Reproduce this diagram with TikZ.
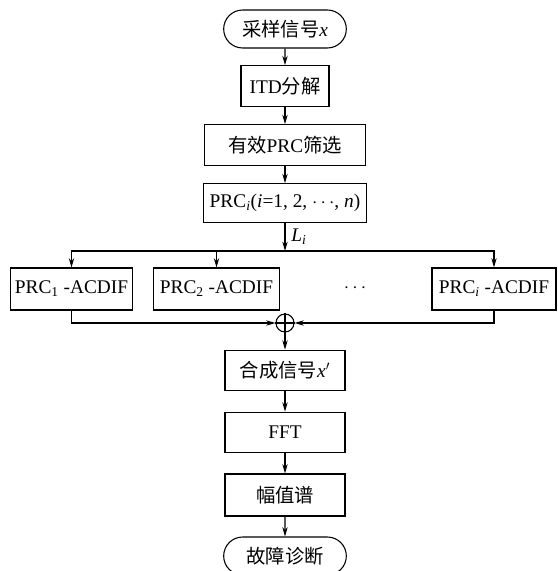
\documentclass[tikz,border=0pt]{standalone}
\usepackage{fontspec}
\setmainfont{Liberation Serif}
\newfontfamily\cjk{Noto Sans CJK SC}
\usetikzlibrary{shapes.misc,arrows.meta}
\newcommand{\zh}[1]{{\cjk #1}}

\begin{document}
\begin{tikzpicture}[x=0.75pt,y=-0.75pt,
    font=\fontsize{14.5}{17}\selectfont,
    line width=0.8pt,
    >={Stealth[length=7pt,width=4pt]},
    box/.style={draw,rectangle,inner sep=0pt,minimum height=30.5pt},
    term/.style={draw,rounded rectangle,inner sep=0pt,minimum width=92pt,minimum height=28.5pt}]
        % Frame of the picture
        \useasboundingbox (0,0) rectangle (557,571);

        % Main column
        \node[term] (start) at (285,29) {\zh{采样信号}\textit{x}};
        \node[box,minimum width=66pt] (itd) at (285,86) {ITD\zh{分解}};
        \node[box,minimum width=121pt] (sel) at (285,145) {\zh{有效}PRC\zh{筛选}};
        \node[box,minimum width=122pt,minimum height=29pt] (prc) at (285,203)
            {PRC\textsubscript{\textit{i}}(\textit{i}=1, 2, $\cdots$, \textit{n})};
        \coordinate (split) at (285,251);

        % PRC-ACDIF row
        \node[box,minimum width=92pt,minimum height=31.5pt] (acd1) at (71.5,289) {PRC\textsubscript{1} -ACDIF};
        \node[box,minimum width=94pt,minimum height=31.5pt] (acd2) at (216.5,289) {PRC\textsubscript{2} -ACDIF};
        \node (dots) at (355,288) {$\cdots$};
        \node[box,minimum width=93pt,minimum height=31.5pt] (acdi) at (494,289) {PRC\textsubscript{\textit{i}} -ACDIF};

        % Summation
        \node[draw,circle,inner sep=0pt,minimum size=13.5pt] (sum) at (285,323) {};
        \draw (sum.north) -- (sum.south);
        \draw (sum.west) -- (sum.east);

        % Lower column
        \node[box,minimum width=90pt] (syn) at (285,370.5) {\zh{合成信号}\textit{x}$'$};
        \node[box,minimum width=90pt] (fft) at (285,432.5) {FFT};
        \node[box,minimum width=90pt,minimum height=31.5pt] (amp) at (285,495) {\zh{幅值谱}};
        \node[term] (diag) at (285,556) {\zh{故障诊断}};

        % Connectors
        \draw[->] (start) -- (itd);
        \draw[->] (itd) -- (sel);
        \draw[->] (sel) -- (prc);
        \draw[->] (prc) -- node[right,xshift=1pt] (li) {\textit{L}\textsubscript{\textit{i}}} (split);
        \draw[->] (split) -| (acd1.north);
        \draw[->] (split) -| (acd2.north);
        \draw[->] (split) -| (acdi.north);
        \draw[->] (acd1.south) |- (sum.west);
        \draw[->] (acdi.south) |- (sum.east);
        \draw[->] (sum) -- (syn);
        \draw[->] (syn) -- (fft);
        \draw[->] (fft) -- (amp);
        \draw[->] (amp) -- (diag);
\end{tikzpicture}
\end{document}
